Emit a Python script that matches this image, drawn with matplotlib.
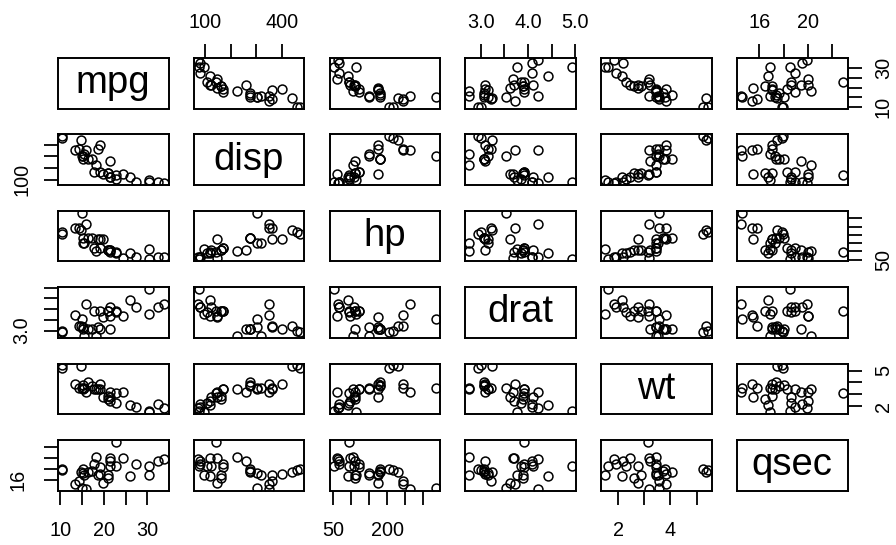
import numpy as np
import matplotlib.pyplot as plt

plt.rcParams['font.family'] = ['Liberation Sans', 'DejaVu Sans']

# mtcars columns
mpg = [21.0, 21.0, 22.8, 21.4, 18.7, 18.1, 14.3, 24.4, 22.8, 19.2, 17.8, 16.4, 17.3, 15.2, 10.4, 10.4,
       14.7, 32.4, 30.4, 33.9, 21.5, 15.5, 15.2, 13.3, 19.2, 27.3, 26.0, 30.4, 15.8, 19.7, 15.0, 21.4]
disp = [160, 160, 108, 258, 360, 225, 360, 146.7, 140.8, 167.6, 167.6, 275.8, 275.8, 275.8, 472, 460,
        440, 78.7, 75.7, 71.1, 120.1, 318, 304, 350, 400, 79, 120.3, 95.1, 351, 145, 301, 121]
hp = [110, 110, 93, 110, 175, 105, 245, 62, 95, 123, 123, 180, 180, 180, 205, 215,
      230, 66, 52, 65, 97, 150, 150, 245, 175, 66, 91, 113, 264, 175, 335, 109]
drat = [3.90, 3.90, 3.85, 3.08, 3.15, 2.76, 3.21, 3.69, 3.92, 3.92, 3.92, 3.07, 3.07, 3.07, 2.93, 3.00,
        3.23, 4.08, 4.93, 4.22, 3.70, 2.76, 3.15, 3.73, 3.08, 4.08, 4.43, 3.77, 4.22, 3.62, 3.54, 4.11]
wt = [2.620, 2.875, 2.320, 3.215, 3.440, 3.460, 3.570, 3.190, 3.150, 3.440, 3.440, 4.070, 3.730, 3.780,
      5.250, 5.424, 5.345, 2.200, 1.615, 1.835, 2.465, 3.520, 3.435, 3.840, 3.845, 1.935, 2.140, 1.513,
      3.170, 2.770, 3.570, 2.780]
qsec = [16.46, 17.02, 18.61, 19.44, 17.02, 20.22, 15.84, 20.00, 22.90, 18.30, 18.90, 17.40, 17.60, 18.00,
        17.98, 17.82, 17.42, 19.47, 18.52, 19.90, 20.01, 16.87, 17.30, 15.41, 17.05, 18.90, 16.70, 16.90,
        14.50, 15.50, 14.60, 18.60]

names = ['mpg', 'disp', 'hp', 'drat', 'wt', 'qsec']
columns = [mpg, disp, hp, drat, wt, qsec]

# tick positions and the labels R kept (horizontal axes / vertical axes)
ticks = {
    'mpg': [10, 15, 20, 25, 30],
    'disp': [100, 200, 300, 400],
    'hp': [50, 100, 150, 200, 250, 300],
    'drat': [3.0, 3.5, 4.0, 4.5, 5.0],
    'wt': [2, 3, 4, 5],
    'qsec': [16, 18, 20, 22],
}
x_labels = {
    'mpg': ['10', '', '20', '', '30'],
    'disp': ['100', '', '', '400'],
    'hp': ['50', '', '', '200', '', ''],
    'drat': ['3.0', '', '4.0', '', '5.0'],
    'wt': ['2', '', '4', ''],
    'qsec': ['16', '', '20', ''],
}
y_labels = {
    'mpg': ['10', '', '', '', '30'],
    'disp': ['100', '', '', ''],
    'hp': ['50', '', '', '', '', ''],
    'drat': ['3.0', '', '', '', ''],
    'wt': ['2', '', '', '5'],
    'qsec': ['16', '', '', ''],
}

W, H = 896, 545
fig = plt.figure(figsize=(W / 100, H / 100), dpi=100)

left0, col_step, pw = 58, 135.8, 110.5
top0, row_step, ph = 58, 76.4, 50.5
n = len(names)


def lims(v):
    # R's default 4% range extension
    lo, hi = min(v), max(v)
    r = hi - lo
    return lo - 0.04 * r, hi + 0.04 * r


for i in range(n):
    for j in range(n):
        x0 = left0 + j * col_step
        y0 = top0 + i * row_step
        ax = fig.add_axes([x0 / W, 1 - (y0 + ph) / H, pw / W, ph / H])
        for s in ax.spines.values():
            s.set_linewidth(1.4)
        ax.tick_params(which='both', direction='out', length=10, width=1.3,
                       labelsize=14.3, pad=9,
                       top=False, bottom=False, left=False, right=False,
                       labeltop=False, labelbottom=False, labelleft=False, labelright=False)
        ax.set_xticks(ticks[names[j]])
        ax.set_xticklabels(x_labels[names[j]])
        ax.set_yticks(ticks[names[i]])
        ax.set_yticklabels(y_labels[names[i]], rotation=90, va='center')
        ax.set_xlim(lims(columns[j]))
        ax.set_ylim(lims(columns[i]))

        if i == j:
            ax.text(0.5, 0.5, names[i], transform=ax.transAxes, ha='center', va='center',
                    fontsize=27.5)
        else:
            ax.plot(columns[j], columns[i], 'o', mfc='none', mec='black', ms=6.4, mew=1.1)

        if i == 0 and j % 2 == 1:
            ax.tick_params(top=True, labeltop=True)
        if i == n - 1 and j % 2 == 0:
            ax.tick_params(bottom=True, labelbottom=True, pad=12)
        if j == 0 and i % 2 == 1:
            ax.tick_params(left=True, labelleft=True)
        if j == n - 1 and i % 2 == 0:
            ax.tick_params(right=True, labelright=True)

fig.savefig('out.png', dpi=100)
